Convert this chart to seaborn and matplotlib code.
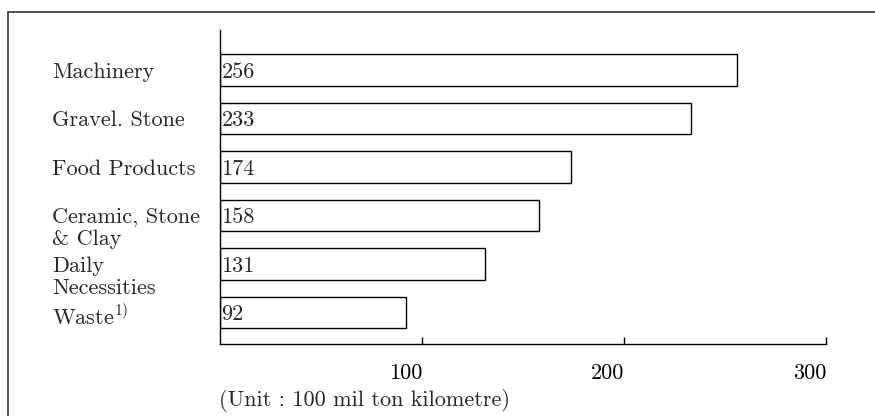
import seaborn as sns
import matplotlib.pyplot as plt
from matplotlib.patches import Rectangle
from matplotlib.transforms import blended_transform_factory

categories = ["Machinery", "Gravel. Stone", "Food Products",
              "Ceramic, Stone\n& Clay", "Daily\nNecessities", "Waste$^{1)}$"]
values = [256, 233, 174, 158, 131, 92]
x_ticks = [100, 200, 300]
unit_note = "(Unit : 100 mil ton kilometre)"

sns.set_style("white")
plt.rcParams["font.family"] = ["cmr10", "DejaVu Serif"]
plt.rcParams["mathtext.fontset"] = "cm"
plt.rcParams["axes.formatter.use_mathtext"] = True

fig = plt.figure(figsize=(8.75, 4.16), dpi=100)
ax = fig.add_axes([220 / 875, 72 / 416, 606 / 875, 314 / 416])

sns.barplot(x=values, y=list(range(len(values))), orient="h",
            color="white", edgecolor="black", linewidth=1.0, width=0.65,
            native_scale=True, ax=ax)

ax.set_xlim(0, 300)
ax.set_ylim(len(values) - 1 + 0.65, -0.82)
ax.set_yticks([])
ax.set_xticks(x_ticks)
ax.set_xticklabels([str(t) for t in x_ticks], ha="right", fontsize=16)
ax.tick_params(axis="x", bottom=True, direction="in", length=5, width=1,
               pad=14, colors="black")
for side in ["top", "right"]:
    ax.spines[side].set_visible(False)
for side in ["left", "bottom"]:
    ax.spines[side].set_color("black")
    ax.spines[side].set_linewidth(1.0)
ax.set_xlabel("")
ax.set_ylabel("")

# value labels at the start of each bar
for i, v in enumerate(values):
    ax.annotate(str(v), xy=(0, i), xytext=(1, -1.5), textcoords="offset points",
                va="center", ha="left", fontsize=16)

# category labels, left aligned
trans = blended_transform_factory(fig.transFigure, ax.transData)
for i, c in enumerate(categories):
    ax.text(52 / 875, i - 0.16, c, transform=trans, ha="left", va="top",
            fontsize=16, linespacing=1.18)

fig.text(219 / 875, 1 - 400 / 416, unit_note, ha="left", va="center", fontsize=16)

# outer frame
fig.patches.append(Rectangle((8 / 875, -0.2), 1.2, 1 - 12 / 416 + 0.2,
                             transform=fig.transFigure, fill=False,
                             edgecolor="#333333", linewidth=1.2))

fig.savefig("out.png", dpi=100, facecolor="white")
